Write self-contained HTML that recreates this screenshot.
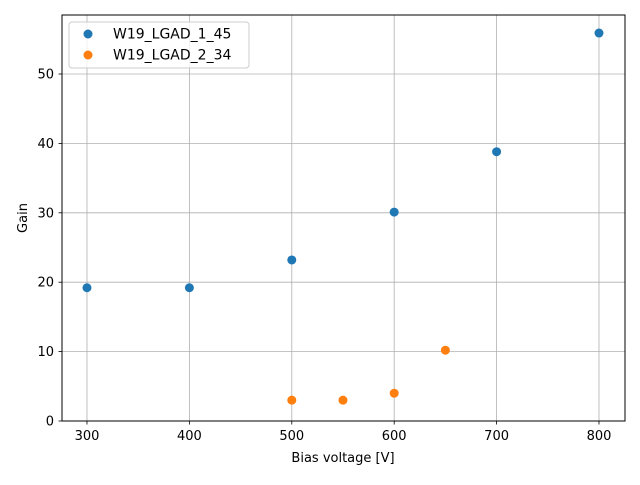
<!DOCTYPE html>
<html><head><meta charset="utf-8"><style>
body{margin:0;background:#fff;font-family:"Liberation Sans","DejaVu Sans",sans-serif;}
</style></head><body>
<svg id="chart" width="640" height="480" xmlns="http://www.w3.org/2000/svg" font-family="'DejaVu Sans','Liberation Sans',sans-serif">
<rect width="640" height="480" fill="#fff"/>
<g id="grid"></g>
<g id="ticks"></g>
<g id="marks"></g>
<rect x="62" y="15" width="563" height="406" fill="none" stroke="#000" stroke-width="1"/>
<text x="343" y="462" font-size="13" text-anchor="middle">Bias voltage [V]</text>
<text x="27" y="218" font-size="13" text-anchor="middle" transform="rotate(-90 27 218)">Gain</text>
<g>
<rect x="69" y="22" width="180" height="46" rx="3" fill="#fff" fill-opacity="0.8" stroke="#ccc"/>
<g><circle cx="88" cy="34" r="4.5" fill="#1f77b4"/><text x="113" y="38.5" font-size="14">W19_LGAD_1_45</text></g>
<g><circle cx="88" cy="55" r="4.5" fill="#ff7f0e"/><text x="113" y="59.5" font-size="14">W19_LGAD_2_34</text></g>
</g>
</svg>
<script>
const xTicks=[300,400,500,600,700,800];
const yTicks=[0,10,20,30,40,50];
const s1x=[300,400,500,600,700,800];
const s1y=[19.2,19.2,23.2,30.1,38.8,55.9];
const s2x=[500,550,600,650];
const s2y=[3.0,3.0,4.0,10.2];
const X0=62,X1=625,Y0=421,Y1=15,xmin=275.6,xmax=825.4,ymin=0,ymax=58.5;
const sx=v=>X0+(v-xmin)/(xmax-xmin)*(X1-X0);
const sy=v=>Y0-(v-ymin)/(ymax-ymin)*(Y0-Y1);
const NS="http://www.w3.org/2000/svg";
const grid=document.getElementById('grid'),ticks=document.getElementById('ticks'),marks=document.getElementById('marks');
function mk(tag,attrs,parent){const e=document.createElementNS(NS,tag);for(const k in attrs)e.setAttribute(k,attrs[k]);parent.appendChild(e);return e;}
xTicks.forEach(v=>{const x=sx(v);
 const g=mk('line',{x1:x,x2:x,y1:Y1,y2:Y0,stroke:'#b0b0b0','stroke-width':0.8},grid);
 
 
 mk('line',{x1:x,x2:x,y1:Y0,y2:Y0+3.5,stroke:'#000','stroke-width':0.8},ticks);
 const t=mk('text',{x:x,y:Y0+19,'font-size':13,'text-anchor':'middle'},ticks);t.textContent=v;
 
 });
yTicks.forEach(v=>{const y=sy(v);
 const g=mk('line',{x1:X0,x2:X1,y1:y,y2:y,stroke:'#b0b0b0','stroke-width':0.8},grid);
 
 
 mk('line',{x1:X0-3.5,x2:X0,y1:y,y2:y,stroke:'#000','stroke-width':0.8},ticks);
 const t=mk('text',{x:X0-8,y:y+4.5,'font-size':13,'text-anchor':'end'},ticks);t.textContent=v;
 
 });
s1x.forEach((v,i)=>{const c=mk('circle',{cx:sx(v),cy:sy(s1y[i]),r:4.5,fill:'#1f77b4'},marks);
 
 });
s2x.forEach((v,i)=>{const c=mk('circle',{cx:sx(v),cy:sy(s2y[i]),r:4.5,fill:'#ff7f0e'},marks);
 
 });
</script>
</body></html>
